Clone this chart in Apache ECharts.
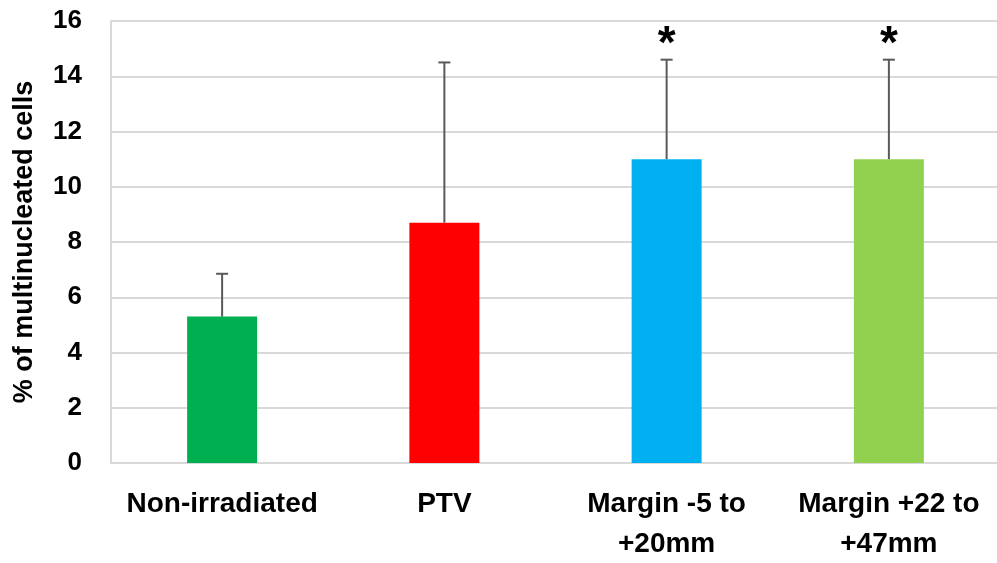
<!DOCTYPE html>
<html>
<head>
<meta charset="utf-8">
<script src="https://cdn.jsdelivr.net/npm/echarts@6/dist/echarts.min.js"></script>
<style>
html,body{margin:0;padding:0;background:#fff;}
#chart{width:997px;height:563px;}
</style>
</head>
<body>
<div id="chart"></div>
<script>
var categories = ['Non-irradiated', 'PTV', 'Margin -5 to\n+20mm', 'Margin +22 to\n+47mm'];
var means = [5.3, 8.7, 11.0, 11.0];
var errors = [1.55, 5.8, 3.6, 3.6];
var significance = ['', '', '*', '*'];
var barColors = ['#00b050', '#ff0000', '#00b0f0', '#92d050'];
var yTicks = [0, 2, 4, 6, 8, 10, 12, 14, 16];

var FONT = '"Liberation Sans", Arial, sans-serif';

var chart = echarts.init(document.getElementById('chart'), null, {renderer: 'canvas'});

var barData = means.map(function (v, i) {
  return {value: v, itemStyle: {color: barColors[i]}};
});
var errData = means.map(function (v, i) {
  return [i, v, v + errors[i]];
});

chart.setOption({
  animation: false,
  backgroundColor: '#ffffff',
  grid: {left: 111, top: 21, width: 889, bottom: 100, containLabel: false, outerBoundsMode: 'none'},
  xAxis: {
    type: 'category',
    data: categories,
    axisLine: {show: true, lineStyle: {color: '#d9d9d9', width: 2}},
    axisTick: {show: false},
    axisLabel: {
      interval: 0,
      color: '#000',
      fontFamily: FONT,
      fontWeight: 'bold',
      fontSize: 28,
      lineHeight: 40,
      margin: 21
    }
  },
  yAxis: {
    type: 'value',
    min: yTicks[0],
    max: yTicks[yTicks.length - 1],
    interval: 2,
    name: '% of multinucleated cells',
    nameLocation: 'middle',
    nameGap: 73,
    nameRotate: 90,
    nameTextStyle: {color: '#000', fontFamily: FONT, fontWeight: 'bold', fontSize: 27},
    axisLine: {show: true, lineStyle: {color: '#d9d9d9', width: 2}},
    axisTick: {show: false},
    splitLine: {show: true, lineStyle: {color: '#d9d9d9', width: 2}},
    axisLabel: {
      color: '#000',
      fontFamily: FONT,
      fontWeight: 'bold',
      fontSize: 26,
      margin: 29
    }
  },
  series: [
    {
      type: 'bar',
      data: barData,
      barWidth: 70,
      z: 2
    },
    {
      type: 'custom',
      z: 3,
      data: errData,
      renderItem: function (params, api) {
        var x = api.coord([api.value(0), api.value(1)])[0];
        var yBase = api.coord([api.value(0), api.value(1)])[1];
        var yTop = api.coord([api.value(0), api.value(2)])[1];
        var children = [
          {type: 'line', shape: {x1: x, y1: yBase, x2: x, y2: yTop}, style: {stroke: '#595959', lineWidth: 2}},
          {type: 'line', shape: {x1: x - 6, y1: yTop, x2: x + 6, y2: yTop}, style: {stroke: '#595959', lineWidth: 2}}
        ];
        var sig = significance[params.dataIndex];
        if (sig) {
          children.push({
            type: 'text',
            style: {
              text: sig,
              x: x,
              y: yTop - 37,
              textAlign: 'center',
              textVerticalAlign: 'top',
              fill: '#000',
              font: 'bold 46px ' + FONT
            }
          });
        }
        return {type: 'group', children: children};
      }
    }
  ]
});
</script>
</body>
</html>
